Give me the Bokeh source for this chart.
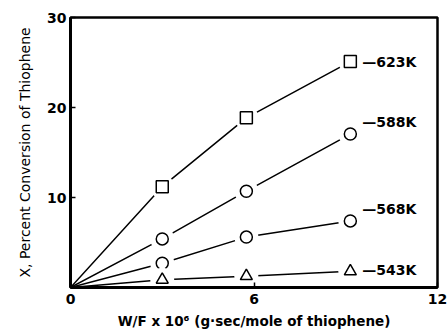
from bokeh.plotting import figure
from bokeh.embed import file_html
from bokeh.resources import INLINE
from bokeh.models import FixedTicker, Range1d, Label

# data
wf = [0, 3.0, 5.75, 9.15]
conv_623 = [0, 11.2, 18.85, 25.1]
conv_588 = [0, 5.4, 10.7, 17.05]
conv_568 = [0, 2.7, 5.6, 7.4]
conv_543 = [0, 0.86, 1.26, 1.8]
temps = ["623K", "588K", "568K", "543K"]
markers = ["square", "circle", "circle", "triangle"]
series = [conv_623, conv_588, conv_568, conv_543]
x_title = "W/F x 10\u2076 (g\u00b7sec/mole of thiophene)"
y_title = "X, Percent Conversion of Thiophene"

FONT = "DejaVu Sans"

p = figure(width=448, height=334, output_backend="svg", toolbar_location=None,
           x_range=Range1d(0, 12), y_range=Range1d(0, 30),
           min_border_left=70, min_border_right=11, min_border_top=17, min_border_bottom=47)
p.grid.visible = False
p.outline_line_color = "black"
p.outline_line_width = 2.5

p.xaxis.ticker = FixedTicker(ticks=[0, 6, 12])
p.yaxis.ticker = FixedTicker(ticks=[0, 10, 20, 30])
p.yaxis.major_label_overrides = {0: ""}
for ax in (p.xaxis[0], p.yaxis[0]):
    ax.axis_line_width = 3
    ax.axis_line_color = "black"
    ax.major_tick_in = 5
    ax.major_tick_out = 0
    ax.major_tick_line_width = 1.5
    ax.minor_tick_line_color = None
    ax.major_label_text_font = FONT
    ax.major_label_text_font_style = "bold"
    ax.major_label_text_font_size = "14px"
    ax.major_label_text_color = "black"
    ax.axis_label_text_font = FONT
    ax.axis_label_text_color = "black"

p.xaxis.major_label_standoff = 6
p.yaxis.major_label_standoff = 4
p.xaxis.axis_label = x_title
p.xaxis.axis_label_text_font_size = "13.5px"
p.xaxis.axis_label_text_font_style = "bold"
p.xaxis.axis_label_standoff = 6
p.yaxis.axis_label = y_title
p.yaxis.axis_label_text_font_size = "14px"
p.yaxis.axis_label_text_font_style = "normal"
p.yaxis.axis_label_standoff = 11

for ys, mk in zip(series, markers):
    p.line(wf, ys, line_color="black", line_width=1.5)
    # white halo to create gaps where the line meets the marker
    p.scatter(wf[1:], ys[1:], marker="circle", size=24, fill_color="white", line_color=None)
    p.scatter(wf[1:], ys[1:], marker=mk, size=12, fill_color="white",
              line_color="black", line_width=1.5)

# temperature labels with leader dash (offsets in screen pixels from the last point)
lift = {"623K": 0, "588K": 12, "568K": 12, "543K": 1}
for ys, t in zip(series, temps):
    lbl = Label(x=wf[-1], y=ys[-1], x_offset=12, y_offset=lift[t],
                text="\u2014" + t, text_font=FONT, text_font_style="bold",
                text_font_size="14px", text_baseline="middle", text_align="left",
                text_color="black")
    p.add_layout(lbl)

open("out.html", "w").write(file_html(p, INLINE))
